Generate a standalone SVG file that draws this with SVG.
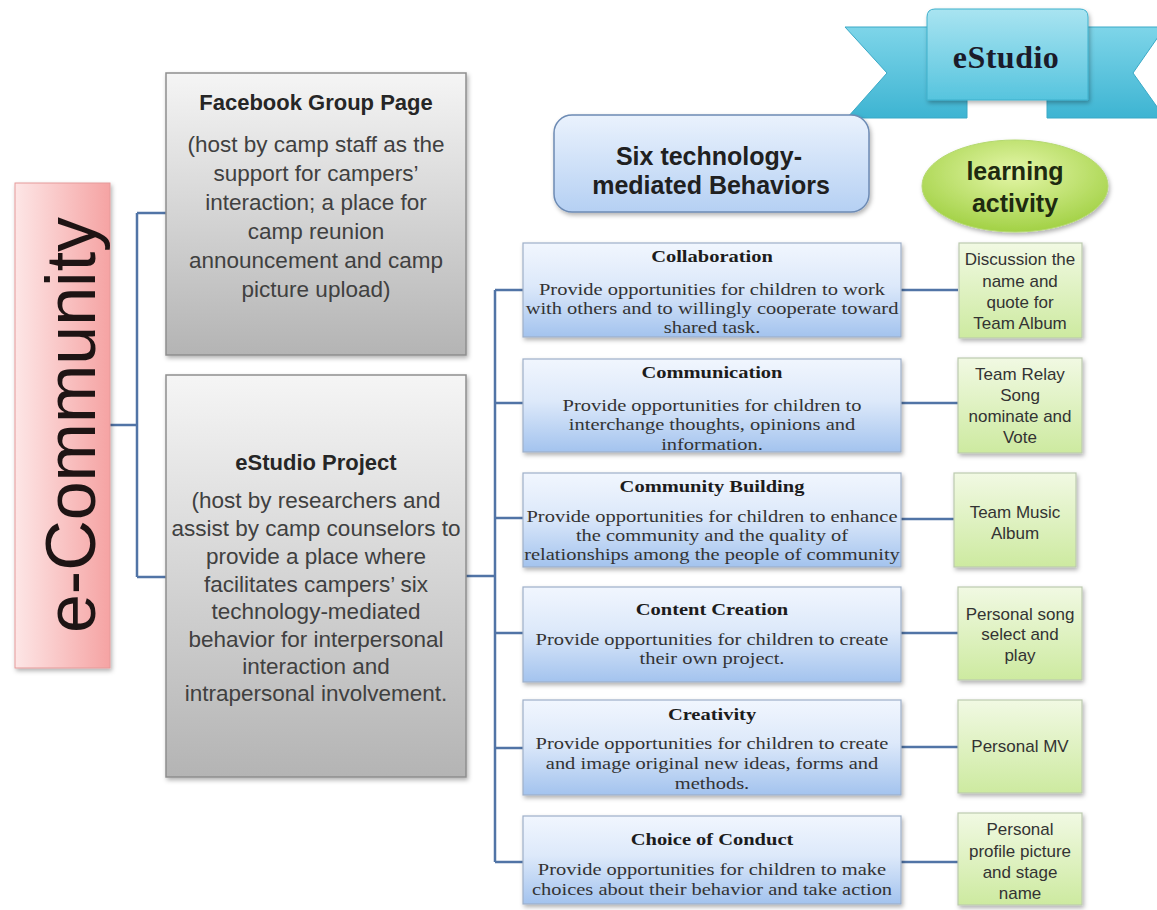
<svg xmlns="http://www.w3.org/2000/svg" width="1157" height="910" viewBox="0 0 1157 910">
  <style>
    .sans { font-family: "Liberation Sans", Arial, sans-serif; }
    .serif { font-family: "Liberation Serif", "Times New Roman", serif; }
    .gray-box { fill: url(#grayFill); stroke: #8e8e8e; stroke-width: 1.5; filter: url(#shadow); }
    .gray-title { font-size: 22px; font-weight: bold; fill: #262626; text-anchor: middle; }
    .gray-body { font-size: 22.5px; fill: #404040; text-anchor: middle; }
    .beh-box { fill: url(#blueFill); stroke: #9eb0c8; stroke-width: 1.2; filter: url(#shadow); }
    .beh-title { font-size: 16px; font-weight: bold; fill: #1c1c1c; text-anchor: middle; }
    .beh-body { font-size: 16px; fill: #333333; text-anchor: middle; }
    .act-box { fill: url(#greenFill); stroke: #bccab0; stroke-width: 1.2; filter: url(#shadow); }
    .act-text { font-size: 17px; fill: #333333; text-anchor: middle; }
    .link { fill: none; stroke: #5174a6; stroke-width: 2.5; }
  </style>
  <defs>
    <linearGradient id="grayFill" x1="0" y1="0" x2="0" y2="1">
      <stop offset="0" stop-color="#f5f5f5"/>
      <stop offset="1" stop-color="#b4b4b4"/>
    </linearGradient>
    <linearGradient id="pinkFill" x1="0" y1="0" x2="1" y2="0">
      <stop offset="0" stop-color="#fde6e6"/>
      <stop offset="1" stop-color="#f5a3a3"/>
    </linearGradient>
    <linearGradient id="blueFill" x1="0" y1="0" x2="0" y2="1">
      <stop offset="0" stop-color="#f1f6fe"/>
      <stop offset="0.45" stop-color="#dde9fa"/>
      <stop offset="1" stop-color="#a3c3ee"/>
    </linearGradient>
    <linearGradient id="headFill" x1="0" y1="0" x2="0" y2="1">
      <stop offset="0" stop-color="#eaf2fd"/>
      <stop offset="1" stop-color="#b5d0f3"/>
    </linearGradient>
    <linearGradient id="greenFill" x1="0" y1="0" x2="0" y2="1">
      <stop offset="0" stop-color="#f1f9e3"/>
      <stop offset="1" stop-color="#cdeaa0"/>
    </linearGradient>
    <radialGradient id="ovalFill" cx="0.5" cy="0.35" r="0.65">
      <stop offset="0" stop-color="#e4f6a8"/>
      <stop offset="1" stop-color="#a2d145"/>
    </radialGradient>
    <linearGradient id="wingFill" x1="0" y1="0" x2="0" y2="1">
      <stop offset="0" stop-color="#7ed5e9"/>
      <stop offset="1" stop-color="#3db4d2"/>
    </linearGradient>
    <linearGradient id="panelFill" x1="0" y1="0" x2="0" y2="1">
      <stop offset="0" stop-color="#a9e4f1"/>
      <stop offset="1" stop-color="#56c4de"/>
    </linearGradient>
    <filter id="shadow" x="-10%" y="-10%" width="125%" height="130%">
      <feDropShadow dx="1.5" dy="2.5" stdDeviation="2" flood-color="#000000" flood-opacity="0.3"/>
    </filter>
  </defs>

  <rect x="0" y="0" width="1157" height="910" fill="#ffffff"/>

  <!-- connectors -->
  <g id="connectors">
    <path class="link" d="M110 425 H137 M137 213 V577 M137 213 H166 M137 577 H166"/>
    <path class="link" d="M466 576 H495 M495 290 V862"/>
    <path class="link" d="M495 290 H523 M495 403 H523 M495 518 H523 M495 633 H523 M495 748 H523 M495 862 H523"/>
    <path class="link" d="M901 290 H958 M901 403 H958 M901 519 H954 M901 633 H958 M901 747 H958 M901 862 H958"/>
  </g>

  <!-- root -->
  <g id="e-community">
    <rect x="15" y="183" width="95" height="485" fill="url(#pinkFill)" stroke="#e59a9a" stroke-width="1" filter="url(#shadow)"/>
    <text class="sans" transform="translate(95 425) rotate(-90)" text-anchor="middle" font-size="70" fill="#1e1414">e-Community</text>
  </g>

  <!-- platforms -->
  <g id="facebook-group">
    <rect class="gray-box" x="166" y="73" width="300" height="282"/>
    <text class="sans gray-title" x="316" y="110">Facebook Group Page</text>
    <text class="sans gray-body" x="316" y="152">(host by camp staff as the</text>
    <text class="sans gray-body" x="316" y="181">support for campers’</text>
    <text class="sans gray-body" x="316" y="210">interaction; a place for</text>
    <text class="sans gray-body" x="316" y="239">camp reunion</text>
    <text class="sans gray-body" x="316" y="268">announcement and camp</text>
    <text class="sans gray-body" x="316" y="297">picture upload)</text>
  </g>

  <g id="estudio-project">
    <rect class="gray-box" x="166" y="375" width="300" height="402"/>
    <text class="sans gray-title" x="316" y="470">eStudio Project</text>
    <text class="sans gray-body" x="316" y="508">(host by researchers and</text>
    <text class="sans gray-body" x="316" y="536">assist by camp counselors to</text>
    <text class="sans gray-body" x="316" y="564">provide a place where</text>
    <text class="sans gray-body" x="316" y="592">facilitates campers’  six</text>
    <text class="sans gray-body" x="316" y="619">technology-mediated</text>
    <text class="sans gray-body" x="316" y="647">behavior for interpersonal</text>
    <text class="sans gray-body" x="316" y="674">interaction and</text>
    <text class="sans gray-body" x="316" y="701">intrapersonal involvement.</text>
  </g>

  <!-- ribbon banner -->
  <g id="estudio-banner">
    <path d="M845 27 H967 V118 H847 L887 73 Z" fill="url(#wingFill)" stroke="#3aa9c6" stroke-width="1"/>
    <path d="M1047 27 H1165 L1133 73 L1165 118 H1047 Z" fill="url(#wingFill)" stroke="#3aa9c6" stroke-width="1"/>
    <path d="M935 9 H1080 Q1088 9 1088 17 V100 H927 V17 Q927 9 935 9 Z" fill="url(#panelFill)" stroke="#3fb0cc" stroke-width="1" filter="url(#shadow)"/>
    <text class="serif" x="1006" y="68" text-anchor="middle" font-size="32" font-weight="bold" fill="#1b1b2a" letter-spacing="0.5">eStudio</text>
  </g>

  <!-- column headers -->
  <g id="behaviors-header">
    <rect x="554" y="115" width="315" height="97" rx="18" ry="18" fill="url(#headFill)" stroke="#6d8bb4" stroke-width="1.5" filter="url(#shadow)"/>
    <text class="sans" x="709" y="165" text-anchor="middle" font-size="25" font-weight="bold" fill="#202020">Six technology-</text>
    <text class="sans" x="711" y="194" text-anchor="middle" font-size="25" font-weight="bold" fill="#202020">mediated Behaviors</text>
  </g>

  <g id="activity-header">
    <ellipse cx="1015" cy="186" rx="93" ry="46" fill="url(#ovalFill)" stroke="#b4d870" stroke-width="1" filter="url(#shadow)"/>
    <text class="sans" x="1015" y="180" text-anchor="middle" font-size="25" font-weight="bold" fill="#1e2a10">learning</text>
    <text class="sans" x="1015" y="212" text-anchor="middle" font-size="25" font-weight="bold" fill="#1e2a10">activity</text>
  </g>

  <!-- behaviors -->
  <g id="collaboration">
    <rect class="beh-box" x="523" y="243" width="378" height="94"/>
    <g class="serif" transform="translate(712 0) scale(1.28 1)">
      <text class="beh-title" x="0" y="262">Collaboration</text>
      <text class="beh-body" x="0" y="295">Provide opportunities for children to work</text>
      <text class="beh-body" x="0" y="314">with others and to willingly cooperate toward</text>
      <text class="beh-body" x="0" y="333">shared task.</text>
    </g>
  </g>

  <g id="communication">
    <rect class="beh-box" x="523" y="359" width="378" height="93"/>
    <g class="serif" transform="translate(712 0) scale(1.28 1)">
      <text class="beh-title" x="0" y="378">Communication</text>
      <text class="beh-body" x="0" y="411">Provide opportunities for children to</text>
      <text class="beh-body" x="0" y="430">interchange thoughts, opinions and</text>
      <text class="beh-body" x="0" y="450">information.</text>
    </g>
  </g>

  <g id="community-building">
    <rect class="beh-box" x="523" y="473" width="378" height="94"/>
    <g class="serif" transform="translate(712 0) scale(1.28 1)">
      <text class="beh-title" x="0" y="492">Community Building</text>
      <text class="beh-body" x="0" y="522">Provide opportunities for children to enhance</text>
      <text class="beh-body" x="0" y="541">the community and the quality of</text>
      <text class="beh-body" x="0" y="560">relationships among the people of community</text>
    </g>
  </g>

  <g id="content-creation">
    <rect class="beh-box" x="523" y="587" width="378" height="95"/>
    <g class="serif" transform="translate(712 0) scale(1.28 1)">
      <text class="beh-title" x="0" y="615">Content Creation</text>
      <text class="beh-body" x="0" y="645">Provide opportunities for children to create</text>
      <text class="beh-body" x="0" y="664">their own project.</text>
    </g>
  </g>

  <g id="creativity">
    <rect class="beh-box" x="523" y="700" width="378" height="95"/>
    <g class="serif" transform="translate(712 0) scale(1.28 1)">
      <text class="beh-title" x="0" y="720">Creativity</text>
      <text class="beh-body" x="0" y="749">Provide opportunities for children to create</text>
      <text class="beh-body" x="0" y="769">and image original new ideas, forms and</text>
      <text class="beh-body" x="0" y="789">methods.</text>
    </g>
  </g>

  <g id="choice-of-conduct">
    <rect class="beh-box" x="523" y="816" width="378" height="88"/>
    <g class="serif" transform="translate(712 0) scale(1.28 1)">
      <text class="beh-title" x="0" y="845">Choice of Conduct</text>
      <text class="beh-body" x="0" y="875">Provide opportunities for children to make</text>
      <text class="beh-body" x="0" y="895">choices about their behavior and take action</text>
    </g>
  </g>

  <!-- learning activities -->
  <g id="act-team-album">
    <rect class="act-box" x="959" y="243" width="123" height="95"/>
    <text class="sans act-text" x="1020" y="265">Discussion the</text>
    <text class="sans act-text" x="1020" y="287">name and</text>
    <text class="sans act-text" x="1020" y="308">quote for</text>
    <text class="sans act-text" x="1020" y="329">Team Album</text>
  </g>

  <g id="act-relay-song">
    <rect class="act-box" x="958" y="358" width="124" height="95"/>
    <text class="sans act-text" x="1020" y="380">Team Relay</text>
    <text class="sans act-text" x="1020" y="401">Song</text>
    <text class="sans act-text" x="1020" y="422">nominate and</text>
    <text class="sans act-text" x="1020" y="443">Vote</text>
  </g>

  <g id="act-music-album">
    <rect class="act-box" x="954" y="473" width="122" height="94"/>
    <text class="sans act-text" x="1015" y="518">Team Music</text>
    <text class="sans act-text" x="1015" y="539">Album</text>
  </g>

  <g id="act-song-select">
    <rect class="act-box" x="958" y="587" width="124" height="93"/>
    <text class="sans act-text" x="1020" y="620">Personal song</text>
    <text class="sans act-text" x="1020" y="640">select and</text>
    <text class="sans act-text" x="1020" y="661">play</text>
  </g>

  <g id="act-mv">
    <rect class="act-box" x="958" y="700" width="124" height="93"/>
    <text class="sans act-text" x="1020" y="752">Personal MV</text>
  </g>

  <g id="act-profile">
    <rect class="act-box" x="958" y="813" width="124" height="92"/>
    <text class="sans act-text" x="1020" y="835">Personal</text>
    <text class="sans act-text" x="1020" y="857">profile picture</text>
    <text class="sans act-text" x="1020" y="878">and stage</text>
    <text class="sans act-text" x="1020" y="899">name</text>
  </g>
</svg>
